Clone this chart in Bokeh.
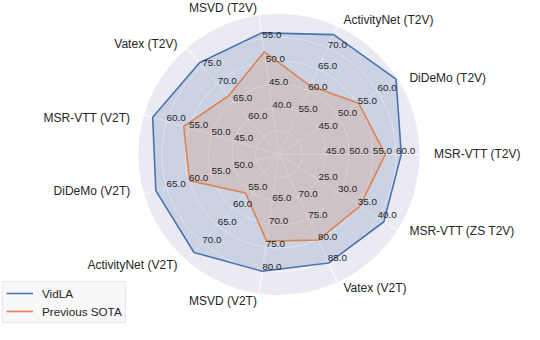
import numpy as np
from bokeh.plotting import figure
from bokeh.models import Range1d, Legend, LegendItem
from bokeh.core.properties import value
from bokeh.embed import file_html
from bokeh.resources import INLINE

# ---------------- data ----------------
categories = ["MSR-VTT (T2V)", "DiDeMo (T2V)", "ActivityNet (T2V)", "MSVD (T2V)",
              "Vatex (T2V)", "MSR-VTT (V2T)", "DiDeMo (V2T)", "ActivityNet (V2T)",
              "MSVD (V2T)", "Vatex (V2T)", "MSR-VTT (ZS T2V)"]
# first labelled tick on each axis (ticks go up in steps of 5)
tick_start = [45, 45, 55, 40, 60, 45, 50, 55, 65, 70, 25]
tick_step = 5
n_tick_labels = 4
vidla = [61.1, 64.7, 73.1, 56.2, 75.9, 63.1, 67.4, 72.7, 80.2, 85.5, 41.6]
prev_sota = [57.7, 55.2, 61.1, 52.1, 66.5, 56.2, 59.9, 55.9, 73.7, 80.1, 35.5]

# ---------------- layout ----------------
W, H = 524, 324
S = 0.96
X0, Y0 = -3.6, -0.3
cx, cy = 286.5, 160.0
R = 146.4
n_rings = 6
u = R / n_rings
RL = 161.5
BLUE = "#4C72B0"
ORANGE = "#DD8452"
TXT = "#262626"
FONT = "Liberation Sans"

n = len(categories)
theta = [2 * np.pi * i / n for i in range(n)]

p = figure(width=W, height=H, x_range=Range1d(X0, X0 + W / S),
           y_range=Range1d(Y0 + H / S, Y0),
           output_backend="svg", toolbar_location=None, min_border=0,
           x_axis_location=None, y_axis_location=None,
           background_fill_color="white", border_fill_color="white",
           outline_line_color=None)
p.grid.visible = False

# background disk
p.circle(x=[cx], y=[cy], radius=[R], fill_color="#EAEAF2", line_color=None)
# rings
p.circle(x=[cx] * (n_rings - 1), y=[cy] * (n_rings - 1),
         radius=[u * k for k in range(1, n_rings)],
         fill_color=None, line_color="white", line_width=1)
# spokes
p.segment(x0=[cx] * n, y0=[cy] * n,
          x1=[cx + R * np.cos(t) for t in theta],
          y1=[cy - R * np.sin(t) for t in theta],
          line_color="white", line_width=1)


def polygon(vals):
    xs, ys = [], []
    for i, v in enumerate(vals):
        lo = tick_start[i] - 2 * tick_step
        r = u * (v - lo) / tick_step
        xs.append(cx + r * np.cos(theta[i]))
        ys.append(cy - r * np.sin(theta[i]))
    return xs, ys


series = [("VidLA", vidla, BLUE), ("Previous SOTA", prev_sota, ORANGE)]
line_renderers = []
for name, vals, col in series:
    xs, ys = polygon(vals)
    p.patch(xs, ys, fill_color=col, fill_alpha=0.2, line_color=None)
for name, vals, col in series:
    xs, ys = polygon(vals)
    lr = p.line(xs + [xs[0]], ys + [ys[0]], line_color=col, line_width=1.6)
    line_renderers.append(lr)

# radial tick labels
tx, ty, tt = [], [], []
for i in range(n):
    for j in range(n_tick_labels):
        k = 2 + j
        tx.append(cx + k * u * np.cos(theta[i]))
        ty.append(cy - k * u * np.sin(theta[i]))
        tt.append(f"{tick_start[i] + j * tick_step:.1f}")
p.text(x=tx, y=ty, text=tt, text_font=value(FONT), text_font_size="9.9px",
       text_color=TXT, text_align="left", text_baseline="bottom")

# category labels
for i, lab in enumerate(categories):
    c, s = np.cos(theta[i]), np.sin(theta[i])
    align = "left" if c > 0.01 else ("right" if c < -0.01 else "center")
    base = "top" if s > 0.05 else ("bottom" if s < -0.05 else "middle")
    p.text(x=[cx + RL * c], y=[cy - RL * s], text=[lab], text_font=value(FONT),
           text_font_size="12px", text_color=TXT, text_align=align,
           text_baseline=base)

legend = Legend(items=[LegendItem(label=series[0][0], renderers=[line_renderers[0]]),
                       LegendItem(label=series[1][0], renderers=[line_renderers[1]])],
                location=(2, 1), margin=0, padding=3, spacing=2,
                glyph_width=27, glyph_height=16, label_height=16, label_standoff=9,
                label_text_font=FONT, label_text_font_size="11.7px",
                label_text_color=TXT,
                border_line_color="#D8D8DE", background_fill_color="#F8F8FA",
                background_fill_alpha=1.0)
p.add_layout(legend)

open("out.html", "w").write(file_html(p, INLINE))
